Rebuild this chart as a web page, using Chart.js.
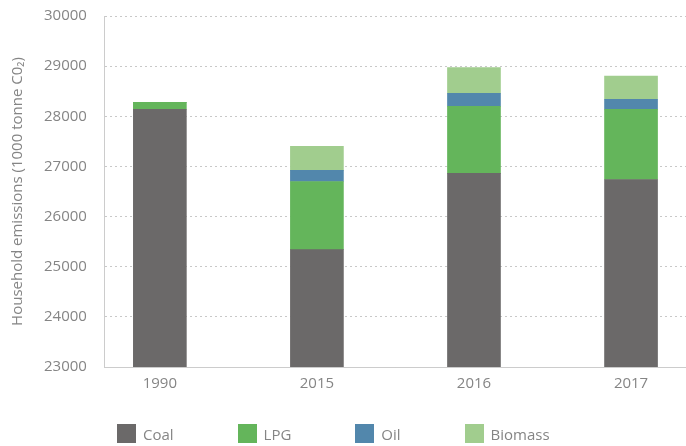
<!DOCTYPE html>
<html>
<head>
<meta charset="utf-8">
<script src="https://cdn.jsdelivr.net/npm/chart.js@4/dist/chart.umd.min.js"></script>
<style>
    html, body { margin: 0; padding: 0; background: #fff; }
    #wrap { position: relative; width: 686px; height: 446px; }
    #legend {
        position: absolute; left: 117px; top: 424px;
        display: flex; font: 15px "Open Sans", sans-serif; color: #858585;
    }
    .item { display: flex; align-items: center; margin-right: 64px; height: 19px; }
    .box { width: 19px; height: 19px; margin-right: 7px; }
</style>
</head>
<body>
<div id="wrap">
    <canvas id="chart" width="686" height="446"></canvas>
    <div id="legend"></div>
</div>
<script>
// --- Data ---
const categories = ['1990', '2015', '2016', '2017'];
const coal = [28140, 25340, 26860, 26740];
const lpg = [140, 1360, 1340, 1400];
const oil = [0, 220, 260, 200];
const biomass = [0, 480, 510, 460];
const yTicks = [23000, 24000, 25000, 26000, 27000, 28000, 29000, 30000];

const seriesNames = ['Coal', 'LPG', 'Oil', 'Biomass'];
const seriesValues = [coal, lpg, oil, biomass];
const seriesColors = ['#6b6969', '#64b55b', '#5287ac', '#a1cd8e'];

const textColor = '#858585';
const font = { family: '"Open Sans", sans-serif', size: 15 };

const datasets = seriesNames.map((name, s) => ({
    label: name,
    data: seriesValues[s].map((v, i) => ({ x: i, y: v })),
    backgroundColor: seriesColors[s],
    borderWidth: 0,
    barThickness: 53
}));

new Chart(document.getElementById('chart'), {
    type: 'bar',
    data: { datasets },
    options: {
        responsive: false,
        animation: false,
        layout: { padding: { left: 5, top: 16, right: 0, bottom: 45 } },
        plugins: { legend: { display: false }, tooltip: { enabled: false } },
        scales: {
            x: {
                type: 'linear',
                stacked: true,
                offset: false,
                min: -0.35,
                max: 3.35,
                afterBuildTicks: axis => { axis.ticks = categories.map((c, i) => ({ value: i })); },
                ticks: { callback: v => categories[v], color: textColor, font, padding: 8, maxRotation: 0 },
                grid: { display: false, drawTicks: false },
                border: { display: true, color: '#cccccc', width: 1 }
            },
            y: {
                stacked: true,
                min: yTicks[0],
                max: yTicks[yTicks.length - 1],
                afterBuildTicks: axis => { axis.ticks = yTicks.map(v => ({ value: v })); },
                ticks: { callback: v => String(v), color: textColor, font, padding: 0 },
                // tick marks are invisible; their length only keeps labels off the axis
                grid: { color: '#c8c8c8', drawTicks: true, tickLength: 18, tickColor: 'rgba(0,0,0,0)', lineWidth: 1 },
                border: { display: true, color: '#cccccc', width: 1, dash: [2, 3] },
                title: {
                    display: true,
                    text: 'Household emissions (1000 tonne C0\u2082)',
                    color: textColor,
                    font,
                    padding: { top: 4, bottom: 17 }
                }
            }
        }
    }
});

// --- Legend ---
const legend = document.getElementById('legend');
seriesNames.forEach((name, s) => {
    const item = document.createElement('div');
    item.className = 'item';
    item.innerHTML = `<span class="box" style="background:${seriesColors[s]}"></span><span>${name}</span>`;
    legend.appendChild(item);
});
</script>
</body>
</html>
